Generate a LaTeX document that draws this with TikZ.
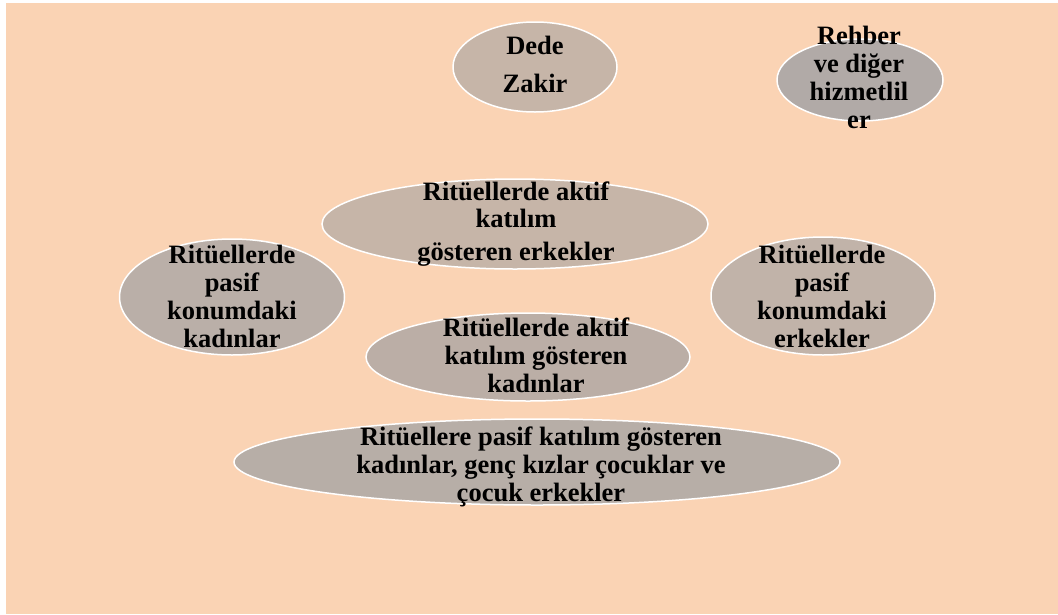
\documentclass[tikz,border=0pt]{standalone}
\usepackage{fontspec}
\setmainfont{Liberation Serif}
\usetikzlibrary{shapes.geometric}
\definecolor{peach}{RGB}{250,211,180}
\definecolor{taupeA}{RGB}{198,181,168}
\definecolor{greyB}{RGB}{177,170,167}
\definecolor{taupeC}{RGB}{186,175,168}
\definecolor{taupeD}{RGB}{193,179,169}
\definecolor{taupeE}{RGB}{187,174,166}
\definecolor{taupeF}{RGB}{183,174,167}
\tikzset{
  blob/.style={ellipse, draw=white, line width=1.5pt, inner sep=0pt},
  lbl/.style={align=center, anchor=base, inner sep=0pt,
    font=\fontsize{26.5}{28}\selectfont\bfseries}
}
\begin{document}
\begin{tikzpicture}[x=1pt,y=-1pt]
\useasboundingbox (0,0) rectangle (1058,614);
\fill[white] (0,0) rectangle (1058,614);
\fill[peach] (6,3) rectangle (1058,614);

\node[blob, fill=taupeA, minimum width=164pt, minimum height=90pt] (dz) at (535,67) {};
\node[blob, fill=greyB, minimum width=166pt, minimum height=82pt] (rh) at (860,80) {};
\node[blob, fill=taupeA, minimum width=386pt, minimum height=90pt] (ae) at (515,224) {};
\node[blob, fill=taupeC, minimum width=225pt, minimum height=116pt] (pk) at (232,297) {};
\node[blob, fill=taupeD, minimum width=224pt, minimum height=118pt] (pe) at (823,296) {};
\node[blob, fill=taupeE, minimum width=324pt, minimum height=88pt] (ak) at (528,357) {};
\node[blob, fill=taupeF, minimum width=606pt, minimum height=86pt] (bt) at (537,462) {};

\node[lbl] (dzt) at (535,92) {Dede\\[10pt]Zakir};
\node[lbl] (rht) at (859,128) {Rehber\\ve diğer\\hizmetlil\\er};
\node[lbl] (aet) at (516,260) {Ritüellerde aktif\\[-1pt]katılım\\[5pt]gösteren erkekler};
\node[lbl] (pkt) at (232,347) {Ritüellerde\\pasif\\konumdaki\\kadınlar};
\node[lbl] (pet) at (822,347) {Ritüellerde\\pasif\\konumdaki\\erkekler};
\node[lbl] (akt) at (536,392) {Ritüellerde aktif\\katılım gösteren\\kadınlar};
\node[lbl] (btt) at (541,501) {Ritüellere pasif katılım gösteren\\kadınlar, genç kızlar çocuklar ve\\çocuk erkekler};
\end{tikzpicture}
\end{document}
